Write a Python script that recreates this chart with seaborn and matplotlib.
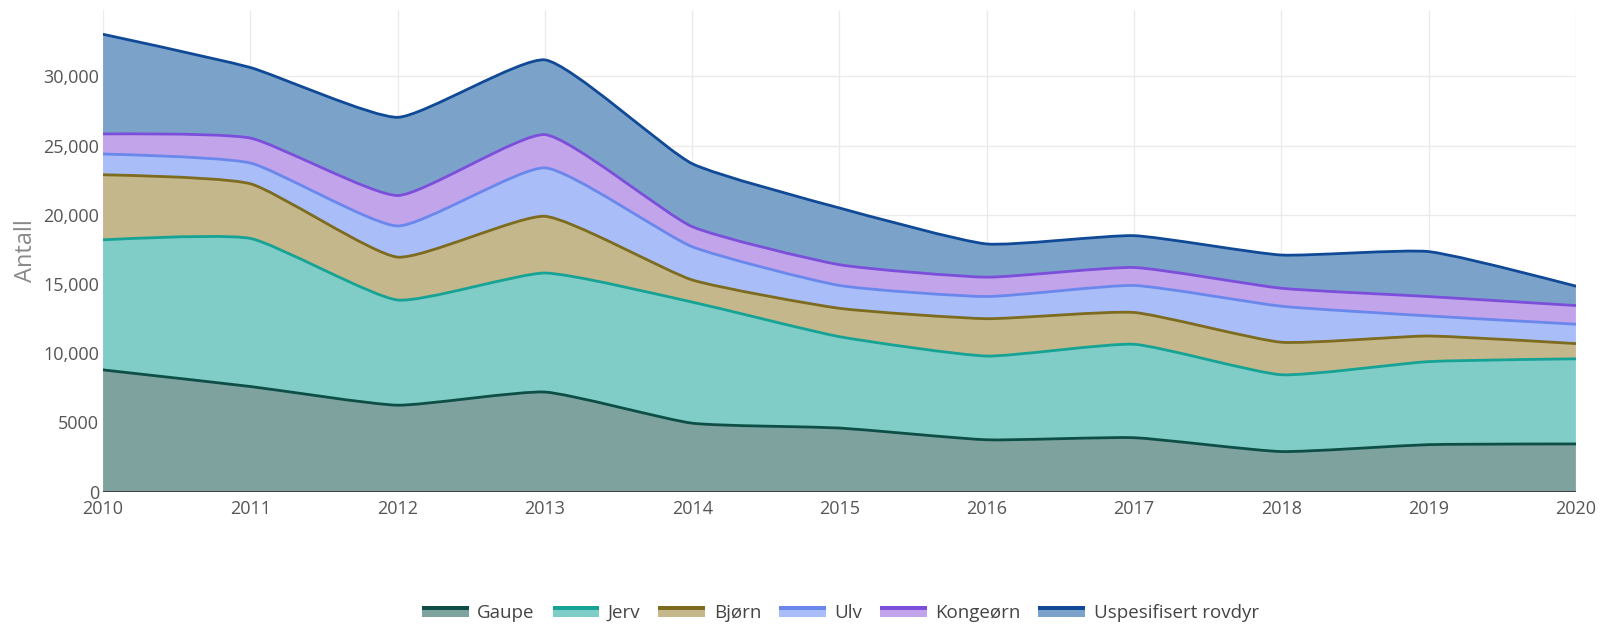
"""
Rovdyrskader - stacked area (plotly-like spline) with seaborn theme
"""

import numpy as np
import matplotlib
matplotlib.use("Agg")
import matplotlib.pyplot as plt
import seaborn as sns
from matplotlib.path import Path
from matplotlib.patches import PathPatch, Patch, Rectangle
from matplotlib.legend_handler import HandlerBase
from matplotlib.ticker import FuncFormatter


# Data

years = [2010, 2011, 2012, 2013, 2014, 2015, 2016, 2017, 2018, 2019, 2020]

gaupe = [8800, 7600, 6250, 7200, 4950, 4600, 3750, 3900, 2900, 3400, 3450]
jerv = [9400, 10700, 7600, 8600, 8750, 6600, 6050, 6750, 5550, 6000, 6150]
bjorn = [4700, 3950, 3100, 4100, 1600, 2050, 2700, 2300, 2350, 1850, 1100]
ulv = [1500, 1500, 2250, 3500, 2400, 1650, 1600, 1950, 2600, 1450, 1400]
kongeorn = [1450, 1800, 2200, 2400, 1450, 1500, 1400, 1300, 1300, 1400, 1350]
uspesifisert = [7200, 5100, 5650, 5400, 4550, 4100, 2400, 2300, 2400, 3250, 1400]

series_names = ["Gaupe", "Jerv", "Bjørn", "Ulv", "Kongeørn", "Uspesifisert rovdyr"]
series_values = [gaupe, jerv, bjorn, ulv, kongeorn, uspesifisert]

line_colors = ["#0d4f47", "#16a396", "#7d6b1f", "#6a87ec", "#7b4fd9", "#104a96"]
fill_colors = ["#7ea39e", "#80cdc7", "#c4b78b", "#a9bef9", "#c2a4eb", "#7ba3ca"]

Y_MAX = 34800
SMOOTHING = 0.5
# pixel scale of the reference plot area, used only for the spline shape
PX_PER_YEAR = 147.3
PX_PER_UNIT = 0.01384


def spline_path(xs, ys, smoothing=SMOOTHING):
    """Plotly style cubic spline through the points, returned in data coords."""
    sx, sy = PX_PER_YEAR, PX_PER_UNIT
    pts = np.column_stack([np.asarray(xs, float) * sx, np.asarray(ys, float) * sy])
    n = len(pts)
    if n < 3:
        verts = pts / [sx, sy]
        return verts, [Path.MOVETO] + [Path.LINETO] * (n - 1)

    tangents = []
    for i in range(1, n - 1):
        d1 = pts[i - 1] - pts[i]
        d2 = pts[i + 1] - pts[i]
        d1a = np.hypot(*d1) ** 0.5
        d2a = np.hypot(*d2) ** 0.5
        num = (d2a * d2a * d1 - d1a * d1a * d2) * smoothing
        t0 = pts[i] + num / (3 * d2a * (d1a + d2a))
        t1 = pts[i] - num / (3 * d1a * (d1a + d2a))
        tangents.append((t0, t1))

    verts = [pts[0], tangents[0][0], pts[1]]
    codes = [Path.MOVETO, Path.CURVE3, Path.CURVE3]
    for i in range(2, n - 1):
        verts += [tangents[i - 2][1], tangents[i - 1][0], pts[i]]
        codes += [Path.CURVE4] * 3
    verts += [tangents[n - 3][1], pts[n - 1]]
    codes += [Path.CURVE3] * 2

    return np.array(verts) / [sx, sy], codes


class SwatchHandler(HandlerBase):
    """Legend swatch: fill colour with the line colour along the top."""

    def create_artists(self, legend, orig_handle, xdescent, ydescent,
                       width, height, fontsize, trans):
        x0, y0 = -xdescent, -ydescent
        fill = Rectangle((x0, y0), width, height,
                         facecolor=orig_handle.get_facecolor(),
                         edgecolor="none", transform=trans)
        top = Rectangle((x0, y0 + height * 0.62), width, height * 0.38,
                        facecolor=orig_handle.get_edgecolor(),
                        edgecolor="none", transform=trans)
        return [fill, top]


def main():
    sns.set_theme(style="whitegrid", rc={
        "grid.color": "#ebebeb",
        "grid.linewidth": 1.0,
        "axes.edgecolor": "white",
    })
    plt.rcParams["font.family"] = ["Open Sans", "DejaVu Sans"]

    fig = plt.figure(figsize=(16.13, 6.29), dpi=100)
    ax = fig.add_axes([0.0639, 0.2183, 0.9131, 0.7657])

    x = np.array(years, dtype=float)
    lower = np.zeros(len(x))

    for name, vals, lc, fc in zip(series_names, series_values, line_colors, fill_colors):
        upper = lower + np.array(vals, dtype=float)

        up_verts, up_codes = spline_path(x, upper)
        if lower.any():
            lo_verts, lo_codes = spline_path(x[::-1], lower[::-1])
        else:
            lo_verts, lo_codes = spline_path([x[-1], x[0]], [0, 0])
        lo_codes = [Path.LINETO] + list(lo_codes[1:])

        verts = np.vstack([up_verts, lo_verts, up_verts[:1]])
        codes = list(up_codes) + lo_codes + [Path.CLOSEPOLY]
        ax.add_patch(PathPatch(Path(verts, codes), facecolor=fc,
                               edgecolor="none", zorder=2))
        ax.add_patch(PathPatch(Path(up_verts, up_codes), fill=False,
                               edgecolor=lc, linewidth=2.0, zorder=3,
                               capstyle="round", joinstyle="round"))
        lower = upper

    ax.axhline(0, color="#444444", linewidth=1.5, zorder=4)

    ax.set_xlim(years[0], years[-1])
    ax.set_ylim(0, Y_MAX)
    ax.set_xticks(years)
    ax.set_yticks([0, 5000, 10000, 15000, 20000, 25000, 30000])
    ax.yaxis.set_major_formatter(FuncFormatter(
        lambda v, _: f"{v:,.0f}" if v >= 10000 else f"{v:.0f}"))
    ax.tick_params(axis="both", length=0, labelsize=13, labelcolor="#555555")
    ax.tick_params(axis="x", pad=6)
    ax.tick_params(axis="y", pad=3)
    for spine in ax.spines.values():
        spine.set_visible(False)

    ax.set_ylabel("Antall", fontsize=17, color="#8a8a8a")
    ax.yaxis.set_label_coords(-0.044, 0.5)
    ax.set_xlabel("")

    handles = [Patch(facecolor=fc, edgecolor=lc) for lc, fc in zip(line_colors, fill_colors)]
    fig.legend(handles, series_names, loc="center", bbox_to_anchor=(0.521, 0.025),
               ncol=6, frameon=False, fontsize=13.5, labelcolor="#444444",
               handlelength=2.5, handleheight=0.53, handletextpad=0.45,
               columnspacing=0.95, handler_map={Patch: SwatchHandler()})

    fig.savefig("out.png", dpi=100)
    plt.close(fig)


if __name__ == "__main__":
    main()
